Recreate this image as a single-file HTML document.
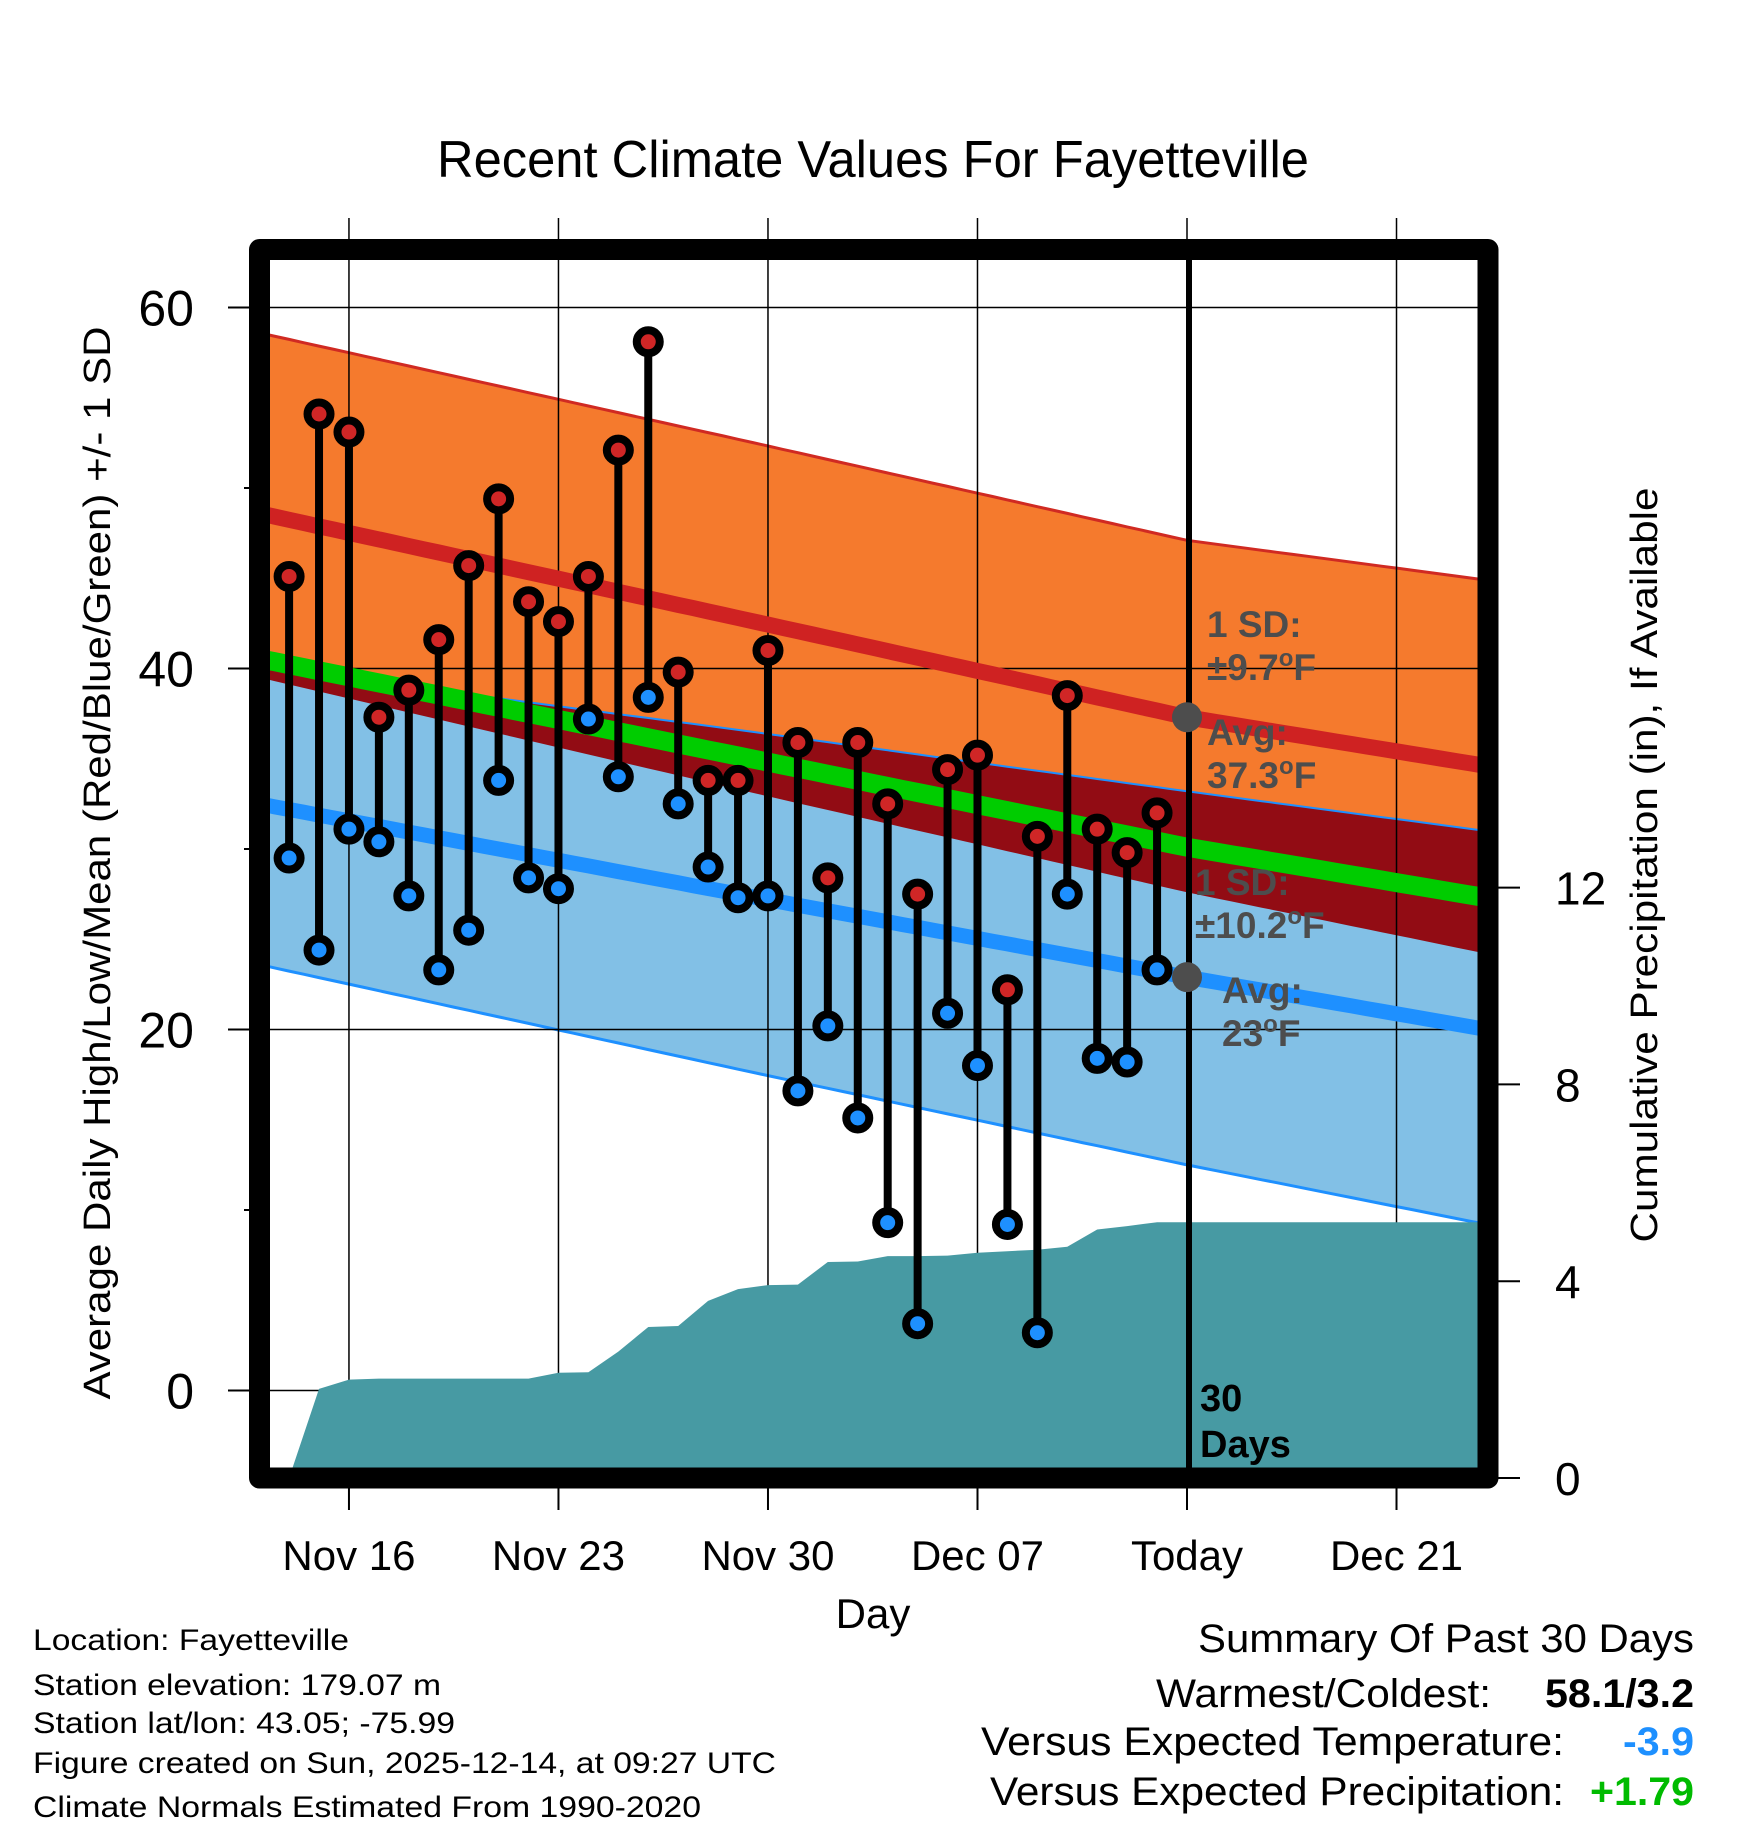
<!DOCTYPE html>
<html><head><meta charset="utf-8"><style>
html,body{margin:0;padding:0;background:#fff;}
svg{display:block;font-family:"Liberation Sans",Arial,sans-serif;}
</style></head><body>
<svg id="chart" width="1748" height="1828" viewBox="0 0 1748 1828" xmlns="http://www.w3.org/2000/svg">
<defs><clipPath id="plotclip"><rect x="270" y="260" width="1208" height="1208"/></clipPath></defs>
<text x="873" y="177" font-size="52" text-anchor="middle" textLength="872" lengthAdjust="spacingAndGlyphs">Recent Climate Values For Fayetteville</text>
<g id="bands" clip-path="url(#plotclip)"></g>
<g id="grid"></g>
<g id="means" clip-path="url(#plotclip)"></g>
<g id="precip" clip-path="url(#plotclip)"></g>
<line x1="1189" y1="260" x2="1189" y2="1468" stroke="#000" stroke-width="6"/>
<g id="obs"></g>
<g id="annot" font-weight="bold" fill="#4d4d4d" font-size="37">
<text x="1207" y="637">1 SD:</text>
<text x="1207" y="680">±9.7<tspan font-size="24" dy="-14">o</tspan><tspan dy="14">F</tspan></text>
<text x="1207" y="745">Avg:</text>
<text x="1207" y="788">37.3<tspan font-size="24" dy="-14">o</tspan><tspan dy="14">F</tspan></text>
<text x="1195" y="895">1 SD:</text>
<text x="1195" y="938">±10.2<tspan font-size="24" dy="-14">o</tspan><tspan dy="14">F</tspan></text>
<text x="1222" y="1003">Avg:</text>
<text x="1222" y="1046">23<tspan font-size="24" dy="-14">o</tspan><tspan dy="14">F</tspan></text>
</g>
<text x="1200" y="1411" font-size="38" font-weight="bold">30</text>
<text x="1200" y="1457" font-size="38" font-weight="bold">Days</text>
<rect x="259.5" y="249.5" width="1228.5" height="1228.5" fill="none" stroke="#000" stroke-width="21" stroke-linejoin="round"/>
<g id="axes"></g>
<text x="873" y="1628" font-size="42" text-anchor="middle">Day</text>
<text transform="translate(110,863) rotate(-90)" font-size="38" text-anchor="middle" textLength="1073" lengthAdjust="spacingAndGlyphs">Average Daily High/Low/Mean (Red/Blue/Green) +/- 1 SD</text>
<text transform="translate(1657,865) rotate(-90)" font-size="38" text-anchor="middle" textLength="755" lengthAdjust="spacingAndGlyphs">Cumulative Precipitation (in), If Available</text>
<g font-size="30">
<text x="33" y="1650" textLength="316" lengthAdjust="spacingAndGlyphs">Location: Fayetteville</text>
<text x="33" y="1695" textLength="408" lengthAdjust="spacingAndGlyphs">Station elevation: 179.07 m</text>
<text x="33" y="1733" textLength="422" lengthAdjust="spacingAndGlyphs">Station lat/lon: 43.05; -75.99</text>
<text x="33" y="1773" textLength="743" lengthAdjust="spacingAndGlyphs">Figure created on Sun, 2025-12-14, at 09:27 UTC</text>
<text x="33" y="1817" textLength="668" lengthAdjust="spacingAndGlyphs">Climate Normals Estimated From 1990-2020</text>
</g>
<g font-size="40">
<text x="1694" y="1652" text-anchor="end" textLength="496" lengthAdjust="spacingAndGlyphs">Summary Of Past 30 Days</text>
<text x="1491" y="1707" text-anchor="end" textLength="335" lengthAdjust="spacingAndGlyphs">Warmest/Coldest:</text>
<text x="1694" y="1707" text-anchor="end" font-weight="bold" textLength="149" lengthAdjust="spacingAndGlyphs">58.1/3.2</text>
<text x="1564" y="1755" text-anchor="end" textLength="583" lengthAdjust="spacingAndGlyphs">Versus Expected Temperature:</text>
<text x="1694" y="1755" text-anchor="end" font-weight="bold" fill="#1e90ff" textLength="71" lengthAdjust="spacingAndGlyphs">-3.9</text>
<text x="1564" y="1805" text-anchor="end" textLength="574" lengthAdjust="spacingAndGlyphs">Versus Expected Precipitation:</text>
<text x="1694" y="1805" text-anchor="end" font-weight="bold" fill="#00bb00" textLength="104" lengthAdjust="spacingAndGlyphs">+1.79</text>
</g>
</svg>
<script>
// observation days: index 0 = Nov 14
const dayLabels = ["Nov14","Nov15","Nov16","Nov17","Nov18","Nov19","Nov20","Nov21","Nov22","Nov23","Nov24","Nov25","Nov26","Nov27","Nov28","Nov29","Nov30","Dec01","Dec02","Dec03","Dec04","Dec05","Dec06","Dec07","Dec08","Dec09","Dec10","Dec11","Dec12","Dec13"];
const highs = [45.1,54.1,53.1,37.3,38.8,41.6,45.7,49.4,43.7,42.6,45.1,52.1,58.1,39.8,33.8,33.8,41.0,35.9,28.4,35.9,32.5,27.5,34.4,35.2,22.2,30.7,38.5,31.1,29.8,32.0];
const lows = [29.5,24.4,31.1,30.4,27.4,23.3,25.5,33.8,28.4,27.8,37.2,34.0,38.4,32.5,29.0,27.3,27.4,16.6,20.2,15.1,9.3,3.7,20.9,18.0,9.2,3.2,27.5,18.4,18.2,23.3];
const precipCum = [0,1.81,2.0,2.02,2.02,2.02,2.02,2.02,2.02,2.14,2.15,2.57,3.07,3.09,3.6,3.84,3.92,3.93,4.39,4.4,4.51,4.51,4.52,4.58,4.61,4.64,4.7,5.05,5.12,5.2];
// normals (days relative to Nov 14)
const normDays = [-1,15,30,40];
const hiUpper = [58.6,52.7,47.1,44.9];
const hiMean = [48.6,42.8,37.3,34.6];
const hiLower = [39.5,33.3,27.6,24.2];
const loUpper = [40.1,36.6,33.2,31.0];
const loMean = [32.5,27.5,22.9,20.0];
const loLower = [23.6,17.8,12.5,9.2];
const xTickDays = [2,9,16,23,30,37];
const xTickLabels = ["Nov 16","Nov 23","Nov 30","Dec 07","Today","Dec 21"];
const yTicks = [0,20,40,60];
const yMinor = [10,30,50];
const y2Ticks = [0,4,8,12];

const NS="http://www.w3.org/2000/svg";
const X = d => 289.1 + 29.93*d;
const Y = t => 1390.5 - 18.05*t;
const Y2 = p => 1478 - 49.2*p;
function mk(tag, attrs, parent){const e=document.createElementNS(NS,tag);for(const k in attrs)e.setAttribute(k,attrs[k]);parent.appendChild(e);return e;}
function interp(arr,d){for(let i=0;i<normDays.length-1;i++){if(d<=normDays[i+1]||i==normDays.length-2){const f=(d-normDays[i])/(normDays[i+1]-normDays[i]);return arr[i]+f*(arr[i+1]-arr[i]);}}}
const samp=[];for(let d=-1;d<=40;d+=0.5)samp.push(d);
function linePts(fn){return samp.map(d=>X(d).toFixed(1)+","+Y(fn(d)).toFixed(1));}
function bandPts(fa,fb){return linePts(fa).concat(linePts(fb).reverse()).join(" ");}

const bands=document.getElementById('bands');
let e;
e=mk('polygon',{points:bandPts(d=>interp(hiUpper,d),d=>interp(hiLower,d)),fill:'#f57a2d'},bands);

e=mk('polygon',{points:bandPts(d=>interp(loUpper,d),d=>interp(loLower,d)),fill:'#82c0e6'},bands);

e=mk('polygon',{points:bandPts(d=>Math.min(interp(loUpper,d),interp(hiUpper,d)),d=>Math.max(interp(hiLower,d),interp(loLower,d))),fill:'#920c14'},bands);

e=mk('polyline',{points:linePts(d=>interp(hiUpper,d)).join(" "),fill:'none',stroke:'#d02a22','stroke-width':3},bands);

e=mk('polyline',{points:linePts(d=>interp(loUpper,d)).join(" "),fill:'none',stroke:'#1e90ff','stroke-width':2},bands);

e=mk('polyline',{points:linePts(d=>interp(loLower,d)).join(" "),fill:'none',stroke:'#1e90ff','stroke-width':3},bands);


const grid=document.getElementById('grid');
yTicks.forEach(t=>{e=mk('line',{x1:270,x2:1478,y1:Y(t),y2:Y(t),stroke:'#000','stroke-width':1.5},grid);
});
xTickDays.forEach(d=>{e=mk('line',{x1:X(d),x2:X(d),y1:218,y2:1468,stroke:'#000','stroke-width':1.5},grid);
});

const means=document.getElementById('means');
e=mk('polyline',{points:linePts(d=>interp(hiMean,d)).join(" "),fill:'none',stroke:'#cf2222','stroke-width':16},means);

e=mk('polyline',{points:linePts(d=>(interp(hiMean,d)+interp(loMean,d))/2).join(" "),fill:'none',stroke:'#00cc00','stroke-width':19},means);

e=mk('polyline',{points:linePts(d=>interp(loMean,d)).join(" "),fill:'none',stroke:'#1e90ff','stroke-width':15},means);


const pg=document.getElementById('precip');
let pp=[X(0).toFixed(1)+",1490"];
precipCum.forEach((p,i)=>pp.push(X(i).toFixed(1)+","+Y2(p).toFixed(1)));
pp.push("1490,"+Y2(precipCum[precipCum.length-1]).toFixed(1));
pp.push("1490,1490");
e=mk('polygon',{points:pp.join(" "),fill:'#479aa3'},pg);


const obs=document.getElementById('obs');
highs.forEach((h,i)=>{
 const x=X(i);
 e=mk('line',{x1:x,x2:x,y1:Y(h),y2:Y(lows[i]),stroke:'#000','stroke-width':8},obs);
 
});
highs.forEach((h,i)=>{
 const x=X(i);
 e=mk('circle',{cx:x,cy:Y(h),r:11.5,fill:'#d02626',stroke:'#000','stroke-width':8},obs);
 
 e=mk('circle',{cx:x,cy:Y(lows[i]),r:11.5,fill:'#1e90ff',stroke:'#000','stroke-width':8},obs);
 
});
e=mk('circle',{cx:X(30),cy:Y(interp(hiMean,30)),r:15,fill:'#4d4d4d'},obs);

e=mk('circle',{cx:X(30),cy:Y(interp(loMean,30)),r:15,fill:'#4d4d4d'},obs);


const axes=document.getElementById('axes');
yTicks.forEach(t=>{
 e=mk('line',{x1:228,x2:250,y1:Y(t),y2:Y(t),stroke:'#000','stroke-width':2},axes);
 
 e=mk('text',{x:194,y:Y(t)+18,'font-size':50,'text-anchor':'end'},axes);e.textContent=t;
 
});
yMinor.forEach(t=>{
 e=mk('line',{x1:244,x2:250,y1:Y(t),y2:Y(t),stroke:'#000','stroke-width':2},axes);
 
});
xTickDays.forEach((d,i)=>{
 e=mk('line',{x1:X(d),x2:X(d),y1:1488,y2:1510,stroke:'#000','stroke-width':2},axes);
 
 e=mk('text',{x:X(d),y:1570,'font-size':42,'text-anchor':'middle'},axes);e.textContent=xTickLabels[i];
 
});
y2Ticks.forEach(p=>{
 e=mk('line',{x1:1498,x2:1520,y1:Y2(p),y2:Y2(p),stroke:'#000','stroke-width':2},axes);
 
 e=mk('text',{x:1555,y:Y2(p)+17,'font-size':46},axes);e.textContent=p;
 
});
</script>
</body></html>
